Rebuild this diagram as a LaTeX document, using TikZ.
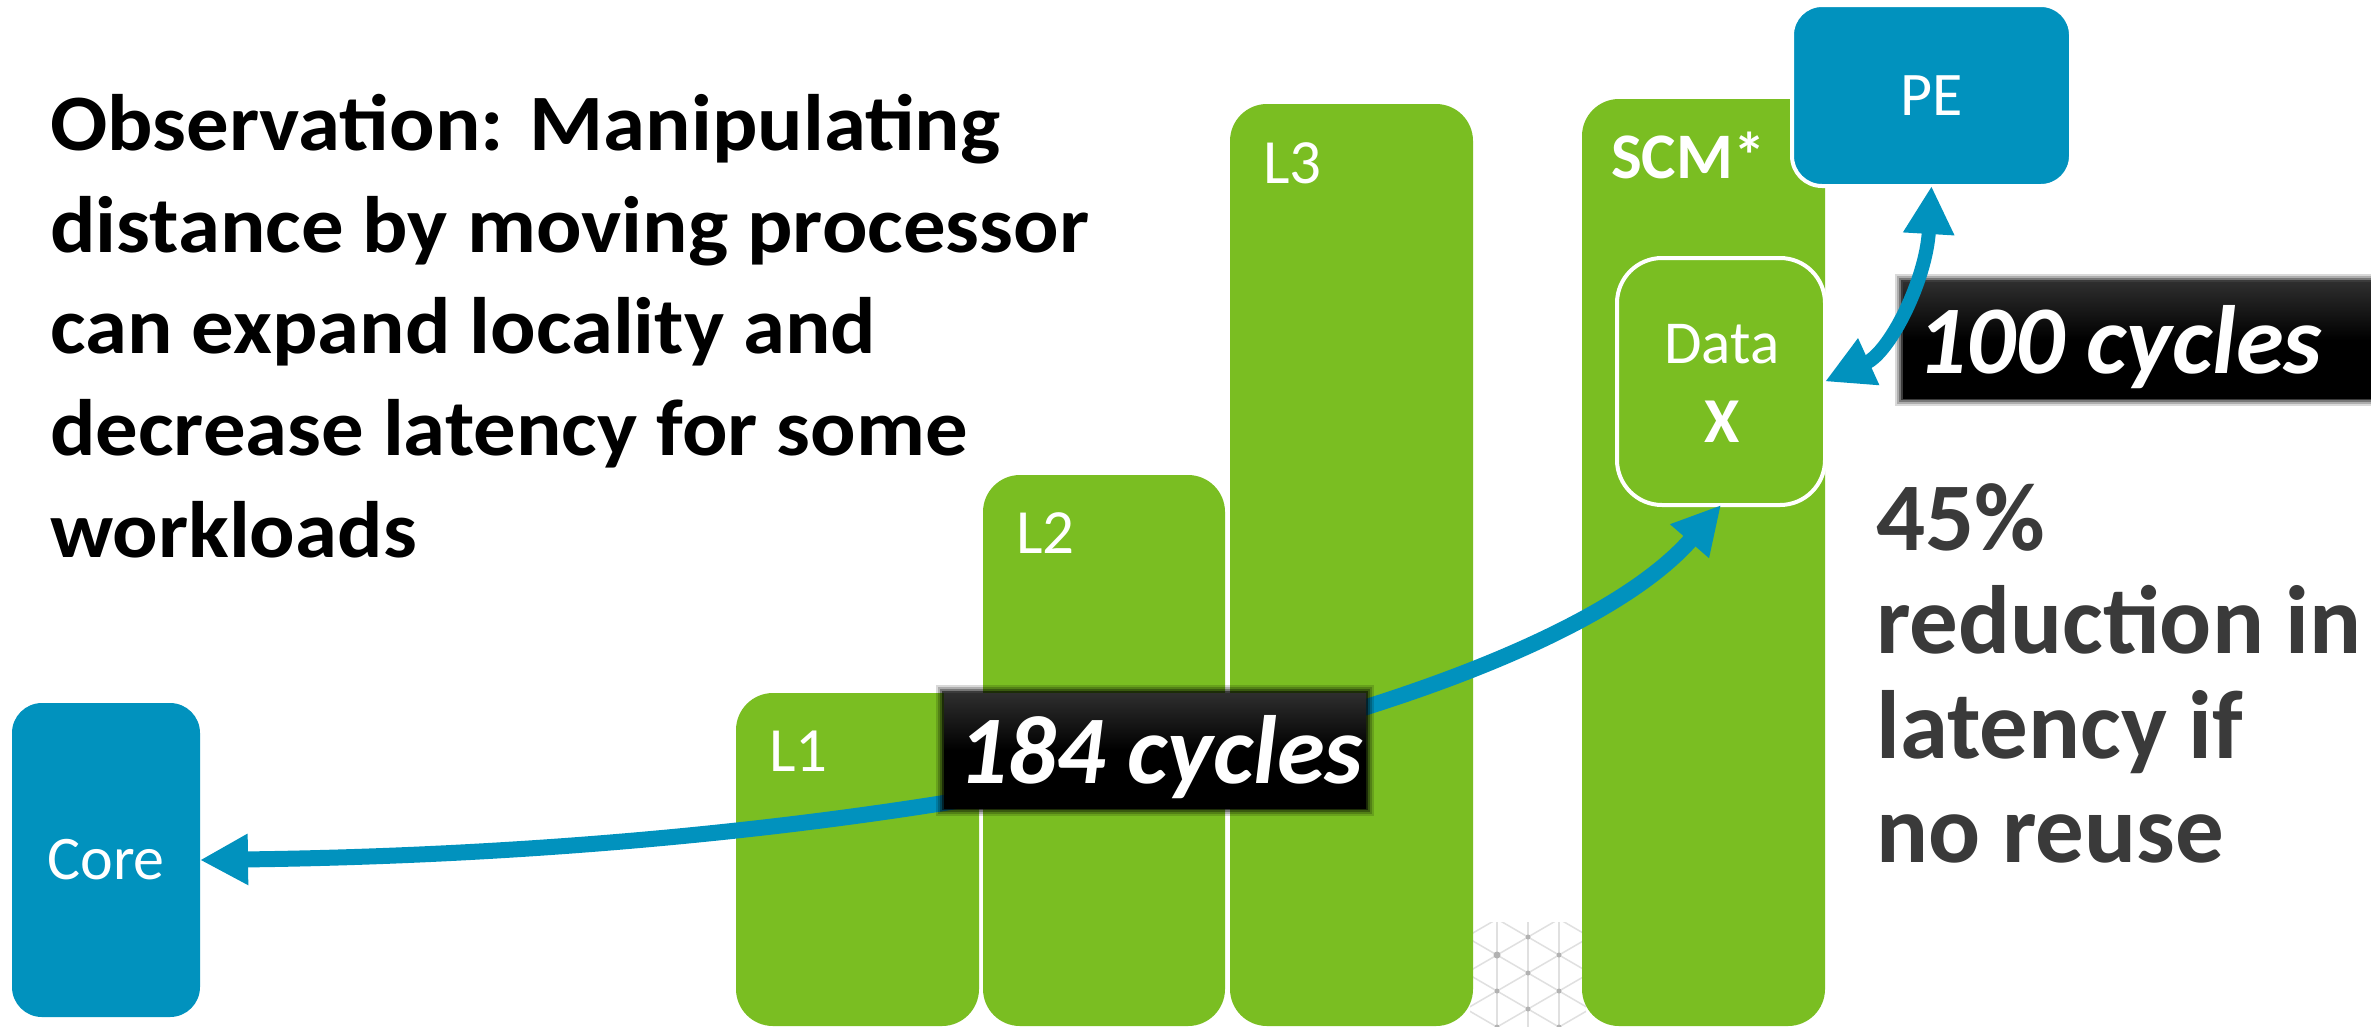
\documentclass[tikz,border=0pt]{standalone}
\usepackage{fontspec}
\setmainfont{Carlito}
\usetikzlibrary{arrows.meta}
\definecolor{grn}{HTML}{7ABE22}
\definecolor{blu}{HTML}{0192BE}
\definecolor{txtgray}{HTML}{3A3A3A}
\newcommand\softbox[4]{%
  \foreach \e/\o in {8/0.15,6/0.2,4/0.3,2/0.5}{\fill[black,opacity=\o] (#1-\e,#2-\e) rectangle (#3+\e,#4+\e);}
  \shade[top color=black!82, bottom color=black, middle color=black] (#1,#2) rectangle (#3,#4);}
\newcommand\obswide[1]{\scalebox{1.06}[1]{#1}}
\begin{document}
\begin{tikzpicture}[x=1pt,y=-1pt,
  bar/.style={fill=grn, draw=none, rounded corners=37pt, inner sep=0pt, outer sep=0pt},
  bluebox/.style={fill=blu, rounded corners=30pt, inner sep=0pt, outer sep=0pt, text=white, font=\fontsize{62}{76}\selectfont},
  barlabel/.style={anchor=base west, inner sep=0pt, text=white, font=\fontsize{63}{76}\selectfont},
  obs/.style={anchor=base west, inner sep=0pt, text=black, font=\fontsize{80}{100}\selectfont\bfseries},
  res/.style={anchor=base west, inner sep=0pt, text=txtgray, font=\fontsize{97}{104}\selectfont\bfseries},
  cyc/.style={anchor=base west, inner sep=0pt, text=white, font=\fontsize{97}{110}\selectfont\bfseries\itshape},
  latline/.style={draw=black!12, line width=1.5pt},
  latdot/.style={fill=black!30},
  >={Triangle[length=48pt,width=48pt]},
  link/.style={draw=blu, line width=16pt, <->},
  linkb/.style={draw=blu, line width=14pt, <->}
]
\clip (0,0) rectangle (2371,1026);
\fill[white] (0,0) rectangle (2371,1026);

% faint background lattice
\begin{scope}
\clip (1470,922) rectangle (1586,1026);
\foreach \k in {-3,...,3} \draw[latline] ({1497+31*\k},900) -- ({1497+31*\k},1030);
\foreach \n in {-6,...,6} {
  \draw[latline] (1497-186,{955+36*\n-108}) -- (1497+186,{955+36*\n+108});
  \draw[latline] (1497-186,{955+36*\n+108}) -- (1497+186,{955+36*\n-108});
}
\foreach \k in {-3,...,3} \foreach \m in {-3,...,3} {
  \pgfmathsetmacro\dy{955+36*\m-18*mod(\k,2)}
  \fill[latdot] ({1497+31*\k},\dy) circle [radius=2.5pt];
}
\fill[latdot] (1497,955) circle [radius=3.5pt];
\end{scope}

% cache bars
\node[bar, minimum width=243pt, minimum height=333pt] (l1) at (857.5,859.5) {};
\node[bar, minimum width=242pt, minimum height=551pt] (l2) at (1104,750.5) {};
\node[bar, minimum width=243pt, minimum height=922pt] (l3) at (1351.5,565) {};
\node[bar, minimum width=243pt, minimum height=927pt] (scm) at (1703.5,562.5) {};

\node[barlabel] (l1t) at (769,771) {L1};
\node[barlabel] (l2t) at (1016,553) {L2};
\node[barlabel] (l3t) at (1263,183) {L3};
\node[barlabel, font=\fontsize{65}{78}\selectfont\bfseries] (scmt) at (1611,178) {SCM*};

% data block
\node[fill=grn, draw=white, line width=4pt, rounded corners=45pt, inner sep=0pt, outer sep=0pt,
      minimum width=208pt, minimum height=247pt] (data) at (1721,381.5) {};
\node[anchor=base, inner sep=0pt, text=white, font=\fontsize{61}{76}\selectfont] (datat) at (1722,363) {Data};
\node[anchor=base, inner sep=0pt, text=white, font=\fontsize{64}{78}\selectfont\bfseries] (datax) at (1722,442) {X};

% processing elements
\node[bluebox, minimum width=188pt, minimum height=314pt] (core) at (106,860) {Core};
\node[bluebox, draw=white, line width=4pt, minimum width=279pt, minimum height=181pt] (pe) at (1931.5,95.5) {PE};

% long arrow
\draw[link] (core.east) .. controls (1000,850) and (1560,690) .. (data.south);

% latency labels
\softbox{944}{693}{1366}{808}
\node[cyc] (c184) at (958,783) {184 cycles};
\softbox{1903}{282}{2390}{398}
\node[cyc] (c100) at (1917,373) {100 cycles};

% short arrow
\draw[linkb] (pe.south) .. controls (1926,280) and (1890,352) .. (data.east);

% observation text
\node[obs] (o1) at (50,150) {\obswide{Observation: Manipulating}};
\node[obs] (o2) at (50,252) {\obswide{distance by moving processor}};
\node[obs] (o3) at (50,353) {\obswide{can expand locality and}};
\node[obs] (o4) at (50,455) {\obswide{decrease latency for some}};
\node[obs] (o5) at (50,557) {\obswide{workloads}};

% result text
\node[res] (r1) at (1876,550) {45\%};
\node[res] (r2) at (1876,653) {reduction in};
\node[res] (r3) at (1876,758) {latency if};
\node[res] (r4) at (1876,862) {no reuse};
\end{tikzpicture}
\end{document}
